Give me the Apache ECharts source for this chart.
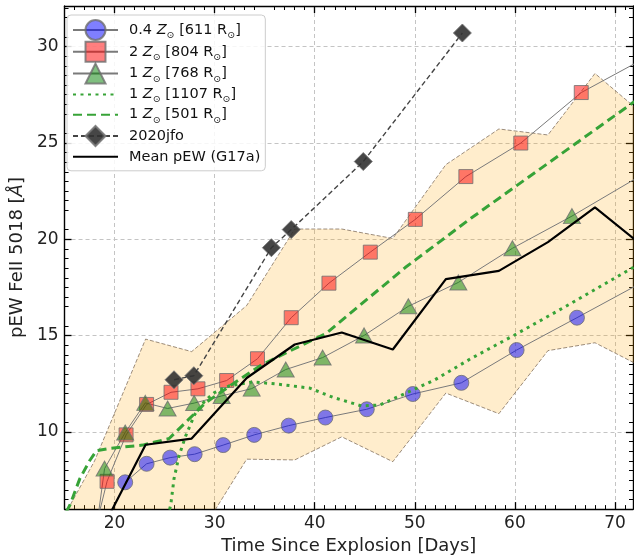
<!DOCTYPE html>
<html><head><meta charset="utf-8">
<script src="https://cdn.jsdelivr.net/npm/echarts@6/dist/echarts.min.js"></script>
<style>html,body{margin:0;padding:0;background:#fff}#c{width:634px;height:560px}</style>
</head><body><div id="c"></div>
<script>
// ---- data ----
const xTicks = [20, 30, 40, 50, 60, 70];
const yTicks = [10, 15, 20, 25, 30];

const names = ['0.4 Z⊙ [611 R⊙]', '2 Z⊙ [804 R⊙]', '1 Z⊙ [768 R⊙]', '1 Z⊙ [1107 R⊙]', '1 Z⊙ [501 R⊙]', '2020jfo', 'Mean pEW (G17a)'];

const lowZX = [21.06, 23.2, 25.55, 28.0, 30.85, 33.95, 37.4, 41.06, 45.2, 49.8, 54.65, 60.17, 66.2, 72.5];
const lowZY = [7.39, 8.35, 8.67, 8.85, 9.32, 9.85, 10.33, 10.75, 11.18, 11.97, 12.55, 14.25, 15.93, 17.7];

const highZX = [17.8, 19.25, 21.15, 23.2, 25.64, 28.33, 31.2, 34.28, 37.65, 41.42, 45.55, 50.05, 55.1, 60.59, 66.63, 73.0];
const highZY = [4.4, 7.44, 9.85, 11.43, 12.06, 12.24, 12.67, 13.8, 15.93, 17.72, 19.33, 21.03, 23.25, 24.99, 27.61, 29.4];

const solZX = [17.8, 19.0, 21.06, 23.07, 25.3, 27.95, 30.7, 33.7, 37.1, 40.79, 44.93, 49.35, 54.35, 59.75, 65.7, 73.0];
const solZY = [3.5, 8.1, 9.97, 11.51, 11.22, 11.5, 11.87, 12.25, 13.24, 13.86, 15.01, 16.52, 17.76, 19.53, 21.2, 23.43];

const dotX = [25.3, 25.61, 25.94, 26.44, 27.1, 28.0, 29.0, 30.0, 31.5, 33.8, 36.0, 39.5, 41.8, 44.7, 46.5, 47.7, 52.01, 55.64, 59.93, 65.54, 71.81, 73.0];
const dotY = [5.6, 6.21, 7.58, 8.76, 9.79, 10.9, 11.6, 12.05, 12.4, 12.6, 12.5, 12.28, 11.8, 11.35, 11.4, 11.68, 12.71, 13.82, 15.02, 16.65, 18.53, 18.9];

const dashX = [14.5, 15.54, 16.53, 17.52, 18.19, 19.5, 22.8, 25.45, 27.3, 29.08, 31.22, 34.52, 37.82, 41.12, 49.04, 55.64, 71.81, 73.0];
const dashY = [5.2, 6.21, 7.58, 8.52, 9.03, 9.15, 9.32, 9.66, 10.6, 11.51, 12.28, 13.43, 14.28, 15.11, 18.53, 21.1, 27.09, 27.5];

const jfoX = [25.94, 27.92, 35.67, 37.65, 44.85, 54.75];
const jfoY = [12.71, 12.92, 19.56, 20.5, 24.03, 30.7];

const binX = [13, 18, 23.1, 27.7, 33.2, 38.0, 42.7, 47.8, 53.1, 58.4, 63.3, 68.0, 73];
const meanY = [1.0, 4.2, 9.34, 9.66, 12.8, 14.54, 15.16, 14.28, 17.93, 18.36, 19.85, 21.65, 19.56];
const bandUpper = [3.8, 8.5, 14.82, 14.17, 16.56, 20.53, 20.53, 20.04, 23.87, 25.72, 25.41, 28.6, 26.4];
const bandLower = [0.5, 1.0, 2.0, 4.0, 8.59, 8.55, 9.75, 8.46, 12.02, 10.95, 14.22, 14.63, 13.3];

// ---- chart ----
const FONT = 'DejaVu Sans';
const zip = (xs, ys) => xs.map((x, i) => [x, ys[i]]);
const chart = echarts.init(document.getElementById('c'), null, {renderer: 'canvas'});

function axisX(pos, main) {
  return {
    type: 'value', position: pos, min: 15, max: 71.8, interval: 10,
    axisLine: {show: true, onZero: false, lineStyle: {color: '#000', width: 1.4}},
    axisTick: {show: true, inside: true, length: 7, customValues: xTicks, lineStyle: {color: '#000', width: 1.3}},
    minorTick: {show: true, splitNumber: 10, length: 4, lineStyle: {color: '#000', width: 1}},
    axisLabel: {show: main, customValues: xTicks, fontSize: 17, color: '#222', margin: 6, fontFamily: FONT},
    splitLine: {show: main, lineStyle: {type: [4, 3], color: '#c4c4c4', width: 1}},
    name: main ? 'Time Since Explosion [Days]' : '', nameLocation: 'middle', nameGap: 27,
    nameTextStyle: {fontSize: 18, color: '#222', fontFamily: FONT}
  };
}
function axisY(pos, main) {
  return {
    type: 'value', position: pos, min: 6, max: 32.1, interval: 5,
    axisLine: {show: true, onZero: false, lineStyle: {color: '#000', width: 1.4}},
    axisTick: {show: true, inside: true, length: 7, customValues: yTicks, lineStyle: {color: '#000', width: 1.3}},
    minorTick: {show: true, splitNumber: 10, length: 4, lineStyle: {color: '#000', width: 1}},
    axisLabel: {show: main, customValues: yTicks, fontSize: 17, color: '#222', margin: 6, fontFamily: FONT},
    splitLine: {show: main, lineStyle: {type: [4, 3], color: '#c4c4c4', width: 1}},
    name: main ? 'pEW FeII 5018 [{a|Å}]' : '', nameLocation: 'middle', nameGap: 24,
    nameTextStyle: {fontSize: 18, color: '#222', fontFamily: FONT, rich: {a: {fontSize: 18, fontStyle: 'italic', fontFamily: FONT, color: '#222'}}}
  };
}

const markerLine = {color: '#7a7a7a', width: 1};
const markerBorder = {borderColor: 'rgba(110,110,110,0.8)', borderWidth: 1};
const noSym = {color: 'rgba(0,0,0,0)', borderColor: 'rgba(0,0,0,0)', borderWidth: 0};
const bandEdge = {type: [4, 2], color: 'rgba(90,70,50,0.6)', width: 1};

const option = {
  animation: false,
  grid: {left: 59, top: 6, width: 574, height: 507, containLabel: false},
  xAxis: [axisX('bottom', true), axisX('top', false)],
  yAxis: [axisY('left', true), axisY('right', false)],
  legend: {
    data: names.map((n, i) => (i === 3 || i === 4 || i === 6) ? {name: n, itemStyle: noSym} : {name: n}),
    orient: 'vertical', left: 67, top: 15,
    padding: [4, 5, 4, 5], itemWidth: 45, itemHeight: 25, itemGap: -0.2,
    backgroundColor: 'rgba(255,255,255,0.85)', borderColor: '#cccccc', borderWidth: 1, borderRadius: 4,
    formatter: n => '{g|}' + n.replace(/Z⊙/g, '{i|Z}{s|⊙}').replace(/R⊙/g, 'R{s|⊙}'),
    textStyle: {fontSize: 14.5, color: '#111', fontFamily: FONT,
      rich: {g: {width: 6},
             i: {fontSize: 14.5, fontStyle: 'italic', fontFamily: FONT, color: '#111'},
             s: {fontSize: 9.5, fontFamily: FONT, color: '#111', verticalAlign: 'bottom', padding: [0, 0, -3, 0]}}}
  },
  series: [
    {name: 'band', type: 'custom', data: zip(binX, bandUpper), silent: true, z: 1, clip: true,
      renderItem: (params, api) => {
        if (params.dataIndex !== 0) return null;
        const pts = [];
        for (let i = 0; i < binX.length; i++) pts.push(api.coord([binX[i], bandUpper[i]]));
        for (let i = binX.length - 1; i >= 0; i--) pts.push(api.coord([binX[i], bandLower[i]]));
        return {type: 'polygon', shape: {points: pts}, style: {fill: 'rgba(255,165,0,0.2)'}};
      }},
    {name: 'bandUpperEdge', type: 'line', data: zip(binX, bandUpper), symbol: 'none', silent: true, lineStyle: bandEdge, z: 2, clip: true},
    {name: 'bandLowerEdge', type: 'line', data: zip(binX, bandLower), symbol: 'none', silent: true, lineStyle: bandEdge, z: 2, clip: true},
    {name: names[0], type: 'line', data: zip(lowZX, lowZY), symbol: 'circle', symbolSize: 15, showAllSymbol: true,
      lineStyle: markerLine, itemStyle: Object.assign({color: 'rgba(0,0,255,0.5)'}, markerBorder), z: 3, clip: true},
    {name: names[1], type: 'line', data: zip(highZX, highZY), symbol: 'rect', symbolSize: 14, showAllSymbol: true,
      lineStyle: markerLine, itemStyle: Object.assign({color: 'rgba(255,0,0,0.5)'}, markerBorder), z: 3, clip: true},
    {name: names[2], type: 'line', data: zip(solZX, solZY), symbol: 'triangle', symbolSize: [17, 15], showAllSymbol: true,
      lineStyle: markerLine, itemStyle: Object.assign({color: 'rgba(0,128,0,0.5)'}, markerBorder), z: 3, clip: true},
    {name: names[3], type: 'line', data: zip(dotX, dotY), symbol: 'none',
      lineStyle: {color: '#37a337', width: 3, type: [3, 4.5]}, itemStyle: {color: '#37a337'}, z: 4, clip: true},
    {name: names[4], type: 'line', data: zip(dashX, dashY), symbol: 'none',
      lineStyle: {color: '#37a337', width: 3, type: [9, 5]}, itemStyle: {color: '#37a337'}, z: 4, clip: true},
    {name: names[5], type: 'line', data: zip(jfoX, jfoY), symbol: 'diamond', symbolSize: 18, showAllSymbol: true,
      lineStyle: {color: '#444', width: 1.4, type: [5, 3]}, itemStyle: {color: 'rgba(50,50,50,0.9)', borderColor: 'rgba(120,120,120,0.9)', borderWidth: 1}, z: 5, clip: true},
    {name: names[6], type: 'line', data: zip(binX, meanY), symbol: 'none',
      lineStyle: {color: '#000', width: 2.2}, itemStyle: {color: '#000'}, z: 5, clip: true}
  ]
};
chart.setOption(option);
</script>
</body></html>
